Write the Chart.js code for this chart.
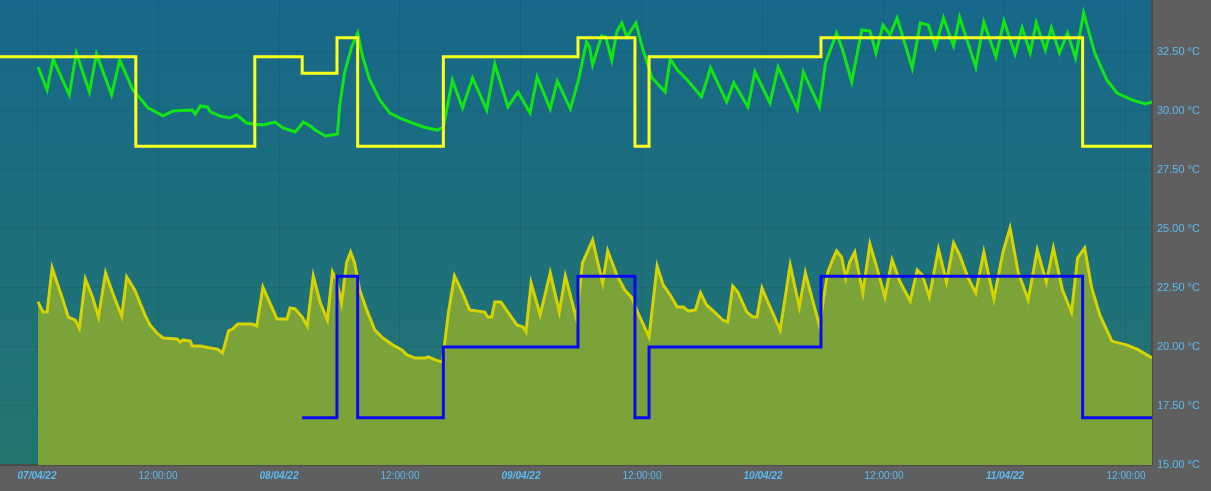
<!DOCTYPE html>
<html>
<head>
<meta charset="utf-8">
<title>Temperaturverlauf</title>
<script src="https://cdn.jsdelivr.net/npm/chart.js@4.4.1/dist/chart.umd.min.js"></script>
<style>
  html, body { margin: 0; padding: 0; background: #5f5f5f; overflow: hidden; }
  #chart { display: block; }
</style>
</head>
<body>
<canvas id="chart" width="1211" height="491"></canvas>
<script>
/* =========================
    DATA
========================= */

// Stunden ab 07/04/22 00:00
const xMin = -3.67;
const xMax = 110.58;

// X-Achse Beschriftung
const dayLabels = ["07/04/22", "08/04/22", "09/04/22", "10/04/22", "11/04/22"];
const halfDayLabel = "12:00:00";
const xTicks = [0, 12, 24, 36, 48, 60, 72, 84, 96, 108];

// Y-Achse
const yTicks = [15, 17.5, 20, 22.5, 25, 27.5, 30, 32.5];

// Fühler oben (grün)
const upperX = [0.1, 1.0, 1.6, 3.2, 3.9, 5.2, 5.9, 7.4, 8.2, 9.5, 10.2, 11.0, 12.5, 13.5, 15.4, 15.7, 16.2, 16.9, 17.2, 18.1,
  19.1, 19.8, 20.8, 21.4, 22.4, 23.6, 24.4, 25.6, 26.1, 26.4, 27.1, 27.6, 28.6, 29.8, 30.0, 30.5, 31.2, 31.8, 32.3, 33.0,
  34.0, 35.0, 36.0, 37.0, 38.3, 39.7, 40.3, 41.2, 42.2, 43.2, 44.6, 45.4, 46.7, 47.7, 48.9, 49.6, 50.9, 51.6, 52.9, 53.7,
  54.5, 54.8, 55.1, 56.0, 56.4, 57.0, 57.5, 58.0, 58.5, 59.4, 60.1, 61.0, 62.3, 62.8, 63.5, 64.5, 65.9, 66.8, 68.4, 69.1,
  70.5, 71.2, 72.7, 73.5, 75.4, 76.0, 77.6, 78.2, 79.3, 79.9, 80.8, 81.8, 82.6, 83.2, 83.9, 84.6, 85.3, 86.8, 87.6, 88.4,
  89.1, 89.9, 90.9, 91.5, 93.1, 93.9, 95.1, 95.9, 97.0, 97.7, 98.5, 99.1, 100.0, 100.6, 101.4, 102.2, 103.0, 103.8, 104.9, 106.1,
  107.1, 108.6, 109.9, 110.6];
const upperY = [31.86, 30.89, 32.20, 30.68, 32.46, 30.80, 32.41, 30.68, 32.16, 30.89, 30.55, 30.13, 29.79, 30.00, 30.04, 29.87, 30.21, 30.17, 29.96, 29.79,
  29.70, 29.83, 29.49, 29.45, 29.41, 29.53, 29.28, 29.11, 29.36, 29.53, 29.36, 29.19, 28.94, 29.02, 30.17, 31.61, 32.71, 33.30, 32.29, 31.31,
  30.47, 29.91, 29.70, 29.53, 29.32, 29.19, 29.32, 31.31, 30.13, 31.40, 30.04, 31.99, 30.17, 30.80, 29.91, 31.44, 30.08, 31.27, 30.08, 31.31,
  32.92, 32.71, 31.95, 33.18, 33.13, 32.16, 33.35, 33.73, 33.13, 33.73, 32.58, 31.40, 30.80, 32.20, 31.74, 31.31, 30.59, 31.82, 30.38, 31.19,
  30.17, 31.65, 30.34, 31.86, 30.08, 31.65, 30.17, 32.03, 33.30, 32.58, 31.23, 33.43, 33.39, 32.46, 33.64, 33.22, 33.94, 31.82, 33.73, 33.64,
  32.71, 33.94, 32.75, 33.98, 31.86, 33.77, 32.29, 33.81, 32.41, 33.52, 32.46, 33.73, 32.58, 33.52, 32.46, 33.30, 32.25, 34.15, 32.46, 31.31,
  30.76, 30.47, 30.30, 30.38];

// Fühler unten (gelb, gefüllt)
const lowerX = [0.1, 0.6, 1.0, 1.5, 2.0, 2.5, 3.1, 3.8, 4.2, 4.8, 5.5, 6.1, 6.8, 7.5, 8.4, 8.9, 9.7, 10.7, 11.2, 11.9,
  12.5, 13.9, 14.2, 14.5, 15.2, 15.4, 16.2, 17.2, 17.9, 18.4, 19.0, 19.4, 19.9, 21.3, 21.8, 22.4, 23.1, 23.8, 24.8, 25.1,
  25.6, 26.3, 26.8, 27.4, 28.1, 28.8, 29.3, 29.7, 30.2, 30.7, 31.1, 31.5, 32.0, 32.7, 33.5, 34.3, 35.3, 36.2, 36.7, 37.5,
  38.5, 38.8, 39.5, 40.2, 40.8, 41.4, 42.2, 42.9, 44.4, 44.7, 45.1, 45.4, 46.0, 46.7, 47.6, 48.2, 48.5, 49.0, 49.9, 50.9,
  51.8, 52.4, 53.5, 54.1, 55.1, 56.1, 56.6, 57.5, 58.3, 59.0, 59.6, 60.3, 60.7, 61.5, 62.1, 62.8, 63.5, 64.1, 64.6, 65.3,
  65.8, 66.4, 67.2, 68.0, 68.5, 69.0, 69.5, 70.4, 71.0, 71.4, 71.9, 72.4, 73.7, 74.7, 75.6, 76.2, 77.0, 77.6, 78.4, 78.9,
  79.3, 79.8, 80.2, 80.6, 81.1, 81.9, 82.6, 83.3, 84.1, 84.8, 85.6, 86.6, 87.3, 87.8, 88.5, 89.4, 90.2, 90.9, 91.5, 92.3,
  93.1, 93.9, 94.9, 95.8, 96.5, 97.3, 98.3, 99.2, 100.1, 100.8, 101.7, 102.6, 103.2, 103.9, 104.6, 105.4, 106.6, 108.1, 109.1, 110.4,
  110.6];
const lowerY = [21.91, 21.48, 21.48, 23.35, 22.71, 22.08, 21.27, 21.14, 20.80, 22.88, 22.12, 21.27, 23.14, 22.29, 21.31, 22.97, 22.41, 21.36, 20.93, 20.59,
  20.38, 20.34, 20.21, 20.30, 20.25, 20.04, 20.04, 19.96, 19.91, 19.75, 20.68, 20.76, 20.97, 20.97, 20.89, 22.54, 21.86, 21.19, 21.19, 21.65,
  21.61, 21.27, 20.89, 23.01, 21.86, 21.14, 23.18, 22.84, 21.86, 23.56, 24.02, 23.56, 22.41, 21.57, 20.72, 20.38, 20.08, 19.87, 19.66, 19.53,
  19.53, 19.58, 19.45, 19.36, 21.44, 23.01, 22.29, 21.57, 21.48, 21.27, 21.27, 21.91, 21.91, 21.48, 20.93, 20.85, 20.64, 22.71, 21.36, 23.14,
  21.48, 23.01, 21.19, 23.56, 24.53, 22.71, 24.07, 23.05, 22.41, 22.08, 21.44, 20.80, 20.42, 23.43, 22.63, 22.20, 21.69, 21.69, 21.52, 21.57,
  22.29, 21.78, 21.48, 21.14, 21.06, 22.58, 22.33, 21.48, 21.27, 21.27, 22.50, 21.99, 20.72, 23.47, 21.69, 23.14, 21.86, 20.89, 23.14, 23.69,
  24.07, 23.81, 22.92, 23.60, 24.02, 22.29, 24.36, 23.35, 22.12, 23.69, 22.75, 21.95, 23.26, 23.05, 22.12, 24.15, 22.75, 24.41, 23.90, 22.97,
  22.29, 24.02, 22.03, 24.02, 25.04, 23.18, 22.00, 24.11, 22.75, 24.19, 22.41, 21.48, 23.77, 24.19, 22.50, 21.36, 20.25, 20.08, 19.91, 19.58,
  19.55];

// Sollwerte (Schaltzeitpunkte)
const setTimes = [-4, 9.8, 21.6, 26.3, 29.75, 31.8, 40.3, 53.65, 59.3, 60.7, 77.75, 103.7, 111];
const setUpper = [32.3, 28.5, 32.3, 31.6, 33.1, 28.5, 32.3, 33.1, 28.5, 32.3, 33.1, 28.5, 28.5];
const setLower = [null, null, null, 17.0, 23.0, 17.0, 20.0, 23.0, 17.0, 20.0, 23.0, 17.0, 17.0];


/* =========================
    HELPERS
========================= */

function toPoints(xs, ys) {
  return xs.map((x, i) => ({ x: x, y: ys[i] }));
}

const LABEL_COLOR = "#58bcf2";
const GRID_COLOR = "rgba(0, 0, 0, 0.07)";
const FONT = "'Liberation Sans', Arial, sans-serif";

// Hintergrund: grau + Farbverlauf im Plotbereich
const bgPlugin = {
  id: "bg",
  beforeDraw(chart) {
    const ctx = chart.ctx;
    const a = chart.chartArea;
    ctx.save();
    ctx.fillStyle = "#5f5f5f";
    ctx.fillRect(0, 0, chart.width, chart.height);
    const g = ctx.createLinearGradient(0, a.top, 0, a.bottom);
    g.addColorStop(0, "#17688a");
    g.addColorStop(1, "#23766f");
    ctx.fillStyle = g;
    ctx.fillRect(a.left, a.top, a.right - a.left, a.bottom - a.top);
    ctx.restore();
  }
};

// Label-Padding der Achsen entfernen, damit der Plot bis an den Rand geht
function noPadding(scale) {
  scale.paddingTop = 0;
  scale.paddingBottom = 0;
  scale.paddingLeft = 0;
  scale.paddingRight = 0;
}


/* =========================
    CHART
========================= */

new Chart(document.getElementById("chart"), {
  type: "line",
  data: {
    datasets: [
      {
        label: "Soll unten",
        data: toPoints(setTimes, setLower),
        stepped: "before",
        borderColor: "#0a0af0",
        borderWidth: 3,
        pointRadius: 0,
        fill: false
      },
      {
        label: "Soll oben",
        data: toPoints(setTimes, setUpper),
        stepped: "before",
        borderColor: "#ffff1e",
        borderWidth: 3,
        pointRadius: 0,
        fill: false
      },
      {
        label: "Unten",
        data: toPoints(lowerX, lowerY),
        borderColor: "#d6d400",
        backgroundColor: "#7ba33a",
        borderWidth: 3,
        pointRadius: 0,
        tension: 0,
        fill: "start"
      },
      {
        label: "Oben",
        data: toPoints(upperX, upperY),
        borderColor: "#12e612",
        borderWidth: 3,
        pointRadius: 0,
        tension: 0,
        fill: false
      }
    ]
  },
  options: {
    responsive: false,
    animation: false,
    layout: { padding: 0 },
    plugins: {
      legend: { display: false },
      tooltip: { enabled: false }
    },
    scales: {
      x: {
        type: "linear",
        min: xMin,
        max: xMax,
        afterBuildTicks: (scale) => {
          scale.ticks = xTicks.map(v => ({ value: v }));
        },
        afterFit: (scale) => {
          scale.height = 26;
          noPadding(scale);
        },
        grid: { color: GRID_COLOR, drawTicks: false },
        border: { color: "#4b4b4b", width: 2 },
        ticks: {
          padding: 5,
          maxRotation: 0,
          autoSkip: false,
          color: LABEL_COLOR,
          font: (ctx) => {
            const v = ctx.tick ? ctx.tick.value : 0;
            return v % 24 === 0
              ? { family: FONT, size: 10, style: "italic", weight: "bold" }
              : { family: FONT, size: 10 };
          },
          callback: (v) => (v % 24 === 0 ? dayLabels[v / 24] : halfDayLabel)
        }
      },
      y: {
        position: "right",
        min: 15,
        max: 34.7,
        afterBuildTicks: (scale) => {
          scale.ticks = yTicks.map(v => ({ value: v }));
        },
        afterFit: (scale) => {
          scale.width = 59;
          noPadding(scale);
        },
        grid: { color: GRID_COLOR, drawTicks: false },
        border: { color: "#4b4b4b", width: 2 },
        ticks: {
          padding: 5,
          color: LABEL_COLOR,
          font: { family: FONT, size: 11 },
          callback: (v) => v.toFixed(2) + " °C"
        }
      }
    }
  },
  plugins: [bgPlugin]
});
</script>
</body>
</html>
